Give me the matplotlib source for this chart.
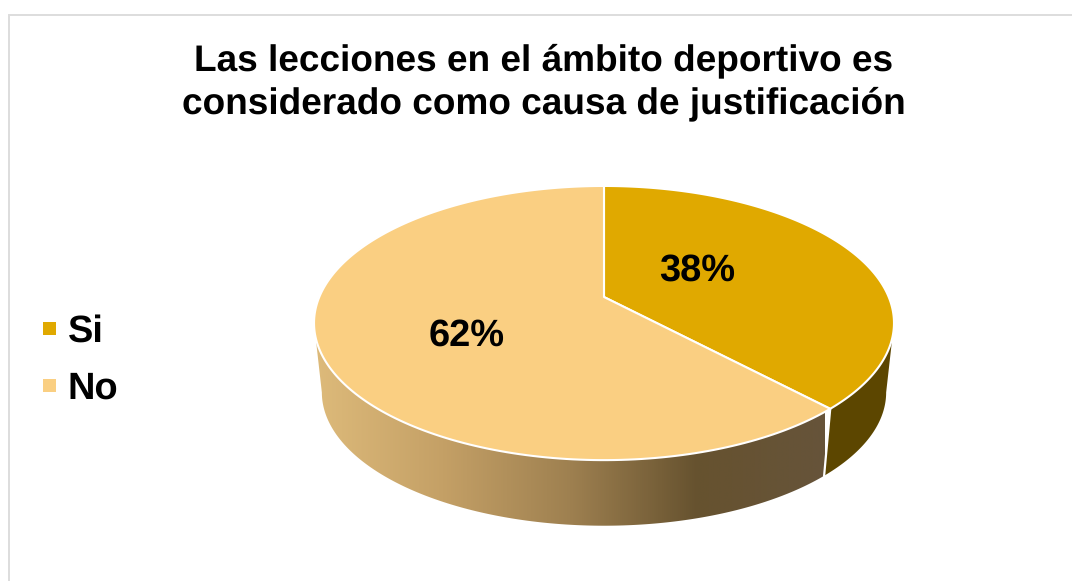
import numpy as np
import matplotlib
matplotlib.use("Agg")
import matplotlib.pyplot as plt
from matplotlib.patches import Polygon, Patch
from matplotlib.colors import LinearSegmentedColormap

title = "Las lecciones en el ámbito deportivo es\nconsiderado como causa de justificación"
categories = ["Si", "No"]
values = [38, 62]
slice_colors = ["#E0A900", "#FACF82"]
wall_dark = "#5C4600"
wall_gradient = ["#DDBA7A", "#C4A066", "#9E8050", "#66522F", "#66543A"]

plt.rcParams["font.family"] = ["Liberation Sans", "DejaVu Sans"]
plt.rcParams["text.hinting"] = "none"
plt.rcParams["text.hinting_factor"] = 1
fig = plt.figure(figsize=(10.72, 5.81), dpi=100)
ax = fig.add_axes([0, 0, 1, 1])
ax.set_xlim(0, 1072)
ax.set_ylim(581, 0)
ax.axis("off")

# chart frame (open at the right and bottom, cropped in the reference)
ax.plot([8.5, 8.5, 1072], [581, 14.5, 14.5], color="#DDDDDD", lw=1.4, solid_joinstyle="miter")

# perspective projection of the pie disc
CX, APEX_Y, P, C, K = 604.0, 297.0, -75.7, 0.19, 284.7
BOT_SCALE, BOT_APEX = 0.973, 367.0


def project(theta_deg, bottom=False):
    t = np.radians(theta_deg)
    x, y = np.sin(t), np.cos(t)
    w = 1 + C * y
    px = K * x / w
    py = (APEX_Y + P * y) / w
    if bottom:
        return CX + BOT_SCALE * px, BOT_APEX + BOT_SCALE * (py - APEX_Y)
    return CX + px, py


def arc(a, b, bottom=False, n=200):
    return np.column_stack(project(np.linspace(a, b, n), bottom))


total = sum(values)
split = 360.0 * values[0] / total
LEFT_EDGE, RIGHT_EDGE = 259.0, 101.0

# side walls
si_wall = np.vstack([arc(RIGHT_EDGE, split), arc(split, RIGHT_EDGE, True)])
ax.add_patch(Polygon(si_wall, closed=True, fc=wall_dark, ec="none", zorder=2))

no_wall = np.vstack([arc(split, LEFT_EDGE), arc(LEFT_EDGE, split, True)])
clip = Polygon(no_wall, closed=True, fc="none", ec="none", transform=ax.transData)
ax.add_patch(clip)
cmap = LinearSegmentedColormap.from_list("wall", wall_gradient)
im = ax.imshow(np.linspace(0, 1, 512)[None, :], cmap=cmap, aspect="auto",
               extent=(316, 825, 530, 300), zorder=2)
im.set_clip_path(clip)
ax.set_xlim(0, 1072)
ax.set_ylim(581, 0)

# seam between the walls
ax.plot(*zip(project(split), project(split, True)), color="white", lw=1.6, zorder=3)

# top faces
angles = [(0, split), (split, 360)]
for (a, b), col in zip(angles, slice_colors):
    pts = np.vstack([[CX, APEX_Y], arc(a, b)])
    ax.add_patch(Polygon(pts, closed=True, fc=col, ec="white", lw=1.5, zorder=4,
                         joinstyle="round"))

# value labels
label_pos = [(697, 271), (467, 336)]
for v, (x, y) in zip(values, label_pos):
    ax.text(x, y, f"{v}%", ha="center", va="center", fontsize=27, fontweight="bold",
            color="black", zorder=5)

ax.text(544, 82, title, ha="center", va="center", fontsize=26.95, fontweight="bold",
        color="black", linespacing=1.31)

# legend
handles = [Patch(fc=c, ec="none") for c in slice_colors]
ax.legend(handles, categories, loc="upper left", bbox_to_anchor=(0.040, 0.459),
          frameon=False, prop={"size": 27, "weight": "bold"}, handlelength=0.36,
          handleheight=0.157, handletextpad=0.30, labelspacing=0.58, borderpad=0,
          borderaxespad=0)

fig.savefig("out.png", dpi=100)
